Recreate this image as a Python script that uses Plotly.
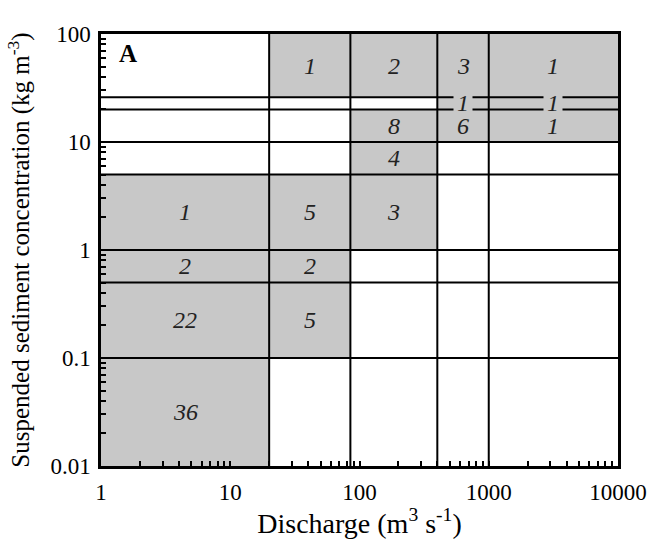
import numpy as np
import plotly.graph_objects as go

# Bin edges (Discharge, m3/s) and (Suspended sediment concentration, kg/m3)
q_edges = [1, 20, 85, 400, 1000, 10000]
c_edges = [0.01, 0.1, 0.5, 1, 5, 10, 20, 26, 100]

# Counts per cell, rows from lowest concentration bin to highest
counts = [
    [36, 0, 0, 0, 0],   # 0.01-0.1
    [22, 5, 0, 0, 0],   # 0.1-0.5
    [2, 2, 0, 0, 0],    # 0.5-1
    [1, 5, 3, 0, 0],    # 1-5
    [0, 0, 4, 0, 0],    # 5-10
    [0, 0, 8, 6, 1],    # 10-20
    [0, 0, 0, 1, 1],    # 20-26
    [0, 1, 2, 3, 1],    # 26-100
]

x_tickvals = [1, 10, 100, 1000, 10000]
x_ticktext = ["1", "10", "100", "1000", "10000"]
y_tickvals = [0.01, 0.1, 1, 10, 100]
y_ticktext = ["0.01", "0.1", "1", "10", "100"]

GRAY = "#c8c8c8"
SERIF = "Liberation Serif"

fig = go.Figure()

# gray filled cells
for i in range(len(c_edges) - 1):
    for j in range(len(q_edges) - 1):
        if counts[i][j] > 0:
            x0, x1 = q_edges[j], q_edges[j + 1]
            y0, y1 = c_edges[i], c_edges[i + 1]
            fig.add_trace(go.Scatter(
                x=[x0, x1, x1, x0, x0], y=[y0, y0, y1, y1, y0],
                mode="lines", fill="toself", fillcolor=GRAY,
                line=dict(width=0, color=GRAY), hoverinfo="skip", showlegend=False))

# grid lines
for c in c_edges[1:-1]:
    fig.add_trace(go.Scatter(x=[q_edges[0], q_edges[-1]], y=[c, c], mode="lines",
                             line=dict(color="black", width=2), hoverinfo="skip", showlegend=False))
for q in q_edges[1:-1]:
    fig.add_trace(go.Scatter(x=[q, q], y=[c_edges[0], c_edges[-1]], mode="lines",
                             line=dict(color="black", width=2), hoverinfo="skip", showlegend=False))

# count labels (narrow row first so its background box sits beneath the others)
narrow_anns, other_anns = [], []
for i in range(len(c_edges) - 1):
    for j in range(len(q_edges) - 1):
        n = counts[i][j]
        if n > 0:
            xc = (np.log10(q_edges[j]) + np.log10(q_edges[j + 1])) / 2
            yc = (np.log10(c_edges[i]) + np.log10(c_edges[i + 1])) / 2
            narrow = (c_edges[i], c_edges[i + 1]) == (20, 26)
            ann = dict(
                x=xc, y=yc, xref="x", yref="y", text=f"<i>{n}</i>", showarrow=False,
                font=dict(family=SERIF, size=24, color="#222"))
            if narrow:
                ann.update(bgcolor=GRAY, borderpad=3)
                narrow_anns.append(ann)
            else:
                other_anns.append(ann)
annotations = narrow_anns + other_anns

annotations.append(dict(x=0.03, y=0.99, xref="paper", yref="paper", text="<b>A</b>",
                        showarrow=False, xanchor="left", yanchor="top",
                        font=dict(family=SERIF, size=25, color="black")))

fig.update_layout(
    width=654, height=539,
    margin=dict(l=101, r=36, t=34, b=73, autoexpand=False),
    paper_bgcolor="white", plot_bgcolor="white",
    annotations=annotations,
    font=dict(family=SERIF, color="black"),
    xaxis=dict(
        type="log", range=[0, 4], tickvals=x_tickvals, ticktext=x_ticktext,
        ticks="inside", ticklen=5, tickwidth=1.5, tickcolor="black", ticklabelstandoff=4,
        automargin=False,
        showgrid=False, zeroline=False, showline=True, linecolor="black", linewidth=2.5, mirror=True,
        tickfont=dict(family=SERIF, size=23, color="black"),
        minor=dict(ticks="inside", ticklen=5, tickwidth=1.5, tickcolor="black", dtick="D1", showgrid=False),
        title=dict(text="Discharge (m<sup>3</sup> s<sup>-1</sup>)", font=dict(family=SERIF, size=28), standoff=0),
    ),
    yaxis=dict(
        type="log", range=[-2, 2], tickvals=y_tickvals, ticktext=y_ticktext,
        ticks="inside", ticklen=5, tickwidth=1.5, tickcolor="black", ticklabelstandoff=3,
        automargin=False,
        showgrid=False, zeroline=False, showline=True, linecolor="black", linewidth=2.5, mirror=True,
        tickfont=dict(family=SERIF, size=23, color="black"),
        minor=dict(ticks="inside", ticklen=5, tickwidth=1.5, tickcolor="black", dtick="D1", showgrid=False),
        title=dict(text="Suspended sediment concentration (kg m<sup>-3</sup>)", font=dict(family=SERIF, size=25), standoff=14),
    ),
)

fig.write_html("out.html")
